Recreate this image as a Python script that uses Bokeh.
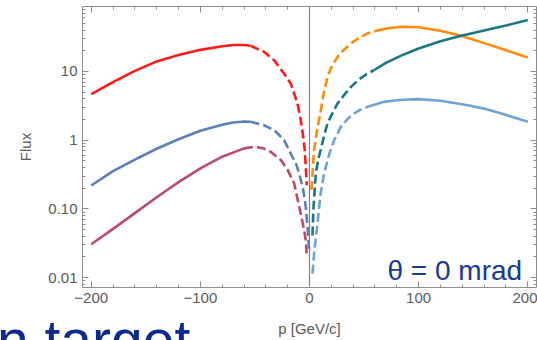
from bokeh.plotting import figure
from bokeh.models import Range1d, LinearAxis, LogAxis, FixedTicker, Span, Label, Div
from bokeh.layouts import column
from bokeh.embed import file_html
from bokeh.resources import INLINE

# ---------------- data ----------------
red_solid_p = [-200, -180, -160, -140, -120, -100, -80, -70, -60, -54]
red_solid_flux = [4.67, 7.0, 10.2, 14.0, 17.3, 20.6, 23.2, 24.2, 24.2, 23.6]
red_dash_p = [-54, -41.6, -32.5, -23.3, -17.2, -11, -8, -6, -4.3, -3.4, -2.5]
red_dash_flux = [23.6, 19.3, 14.6, 9.35, 6.69, 3.42, 1.95, 1.2, 0.715, 0.4, 0.221]

blue_solid_p = [-200, -180, -160, -140, -120, -100, -80, -70, -60, -54]
blue_solid_flux = [0.219, 0.355, 0.52, 0.75, 1.03, 1.37, 1.68, 1.81, 1.87, 1.85]
blue_dash_p = [-54, -41.6, -32.5, -28, -23.3, -20.2, -15.6, -12, -9.5, -6, -3.4, -2, -0.3]
blue_dash_flux = [1.85, 1.65, 1.4, 1.2, 1.0, 0.8, 0.57, 0.44, 0.327, 0.2, 0.107, 0.06, 0.025]

maroon_solid_p = [-200, -180, -160, -140, -120, -100, -80, -60]
maroon_solid_flux = [0.0306, 0.0513, 0.087, 0.148, 0.245, 0.389, 0.575, 0.76]
maroon_dash_p = [-60, -50.8, -42, -35.5, -26, -20, -14, -8, -5, -3.4, -2.5]
maroon_dash_flux = [0.76, 0.8, 0.76, 0.676, 0.51, 0.37, 0.234, 0.085, 0.05, 0.035, 0.021]

orange_dash_p = [1.8, 4.2, 7, 10.4, 13, 16.5, 20, 25.7, 30, 37.9, 45, 53.2, 61]
orange_dash_flux = [0.19, 0.73, 1.4, 2.73, 4.8, 8.3, 11.5, 16.3, 19.5, 25.5, 30.5, 35.7, 38.9]
orange_solid_p = [61, 72, 84, 100, 120, 139, 160, 180, 200]
orange_solid_flux = [38.9, 42.5, 44.6, 44.0, 39.0, 33.0, 25.8, 20.3, 16.0]

teal_dash_p = [2.7, 3.7, 5.8, 8, 10.4, 13, 16.5, 20, 25.7, 31, 38, 45, 53.2, 59]
teal_dash_flux = [0.041, 0.107, 0.33, 0.52, 0.74, 1.1, 1.75, 2.3, 3.42, 4.4, 5.97, 7.6, 9.35, 10.4]
teal_solid_p = [59, 70, 84, 100, 120, 139, 160, 180, 200]
teal_solid_flux = [10.4, 13.3, 17.0, 21.6, 27.5, 33.0, 39.5, 46.5, 55.8]

light_dash_p = [2.7, 4.5, 7.3, 10, 13.4, 18, 22.6, 28.7, 35, 41, 47, 53.2, 57]
light_dash_flux = [0.0115, 0.025, 0.061, 0.16, 0.33, 0.62, 1.0, 1.56, 2.05, 2.45, 2.8, 3.05, 3.2]
light_solid_p = [57, 68.5, 80, 90, 99.2, 120, 145, 160, 175.8, 200]
light_solid_flux = [3.2, 3.61, 3.8, 3.9, 3.95, 3.75, 3.23, 2.88, 2.45, 1.85]

x_ticks = [-200, -100, 0, 100, 200]
x_tick_labels = ["\u2212200", "\u2212100", "0", "100", "200"]
y_ticks = [0.01, 0.1, 1, 10]
y_tick_labels = ["0.01", "0.10", "1", "10"]

# ---------------- figure ----------------
FONT = "Liberation Sans"
AX = "#8c8c8c"
LBL = "#5a5a5a"

p = figure(width=537, height=340, x_range=Range1d(-208, 208),
           y_range=Range1d(0.0072, 88), y_axis_type="log",
           output_backend="svg", toolbar_location=None,
           min_border_left=82, min_border_right=1, min_border_top=6,
           min_border_bottom=53)
p.outline_line_color = None
p.xgrid.visible = False
p.ygrid.visible = False
p.background_fill_color = "white"
p.border_fill_color = "white"

x_minor = [v for v in range(-200, 201, 20) if v not in x_ticks]
y_minor = [k * 10.0 ** e for e in range(-3, 2) for k in range(2, 10)]
xt = FixedTicker(ticks=x_ticks, minor_ticks=x_minor)
yt = FixedTicker(ticks=y_ticks, minor_ticks=y_minor)

xax = p.xaxis[0]
yax = p.yaxis[0]
xax.ticker = xt
yax.ticker = yt
xax.major_label_overrides = dict(zip(x_ticks, x_tick_labels))
yax.major_label_overrides = dict(zip(y_ticks, y_tick_labels))
xax.axis_label = "p [GeV/c]"
yax.axis_label = "Flux"

# mirrored tick axes (no labels)
top = LinearAxis(ticker=xt, major_label_text_font_size="1px", major_label_standoff=0,
                 major_label_overrides={t: "" for t in x_ticks})
right = LogAxis(ticker=yt, major_label_text_font_size="1px", major_label_standoff=0,
                major_label_overrides={t: "" for t in y_ticks})
p.add_layout(top, "above")
p.add_layout(right, "right")

for ax in [xax, yax, top, right]:
    ax.axis_line_color = AX
    ax.major_tick_line_color = AX
    ax.minor_tick_line_color = AX
    ax.major_tick_in = 6
    ax.major_tick_out = 0
    ax.minor_tick_in = 3
    ax.minor_tick_out = 0

for ax in [xax, yax]:
    ax.major_label_text_font = FONT
    ax.major_label_text_font_size = "15px"
    ax.major_label_text_color = LBL
    ax.axis_label_text_font = FONT
    ax.axis_label_text_font_size = "15px"
    ax.axis_label_text_font_style = "normal"
    ax.axis_label_text_color = LBL
xax.major_label_standoff = 5
yax.major_label_standoff = 5
xax.axis_label_standoff = 14
yax.axis_label_standoff = 11

p.add_layout(Span(location=0, dimension="height", line_color="#808080",
                  line_width=1.2, level="underlay"))

curves = [
    (red_solid_p, red_solid_flux, red_dash_p, red_dash_flux, "#ff1a1a"),
    (blue_solid_p, blue_solid_flux, blue_dash_p, blue_dash_flux, "#5b80b8"),
    (maroon_solid_p, maroon_solid_flux, maroon_dash_p, maroon_dash_flux, "#bb4b6c"),
    (orange_solid_p, orange_solid_flux, orange_dash_p, orange_dash_flux, "#ff8a0a"),
    (teal_solid_p, teal_solid_flux, teal_dash_p, teal_dash_flux, "#1a7686"),
    (light_solid_p, light_solid_flux, light_dash_p, light_dash_flux, "#6fa3d3"),
]
for sp, sf, dp, df, col in curves:
    p.line(sp, sf, line_color=col, line_width=2.6, line_join="round")
    p.line(dp, df, line_color=col, line_width=2.6, line_dash="9 4")

p.add_layout(Label(x=305, y=17, x_units="screen", y_units="screen",
                   text="\u03b8 = 0 mrad", text_font=FONT, text_font_size="28px",
                   text_color="#173a94", text_baseline="alphabetic", text_align="left"))

# slide-title fragment that overlaps the bottom edge of the chart
title_div = Div(
    text='<div style="position:relative;left:-3px;top:6px;white-space:nowrap;'
         'font-family:\'Liberation Sans\';font-size:57px;line-height:57px;'
         'color:#0d2a8c;">n target</div>',
    width=300, height=34, margin=(-34, 0, 0, 0),
    styles={"overflow": "hidden"},
)

layout = column(p, title_div, spacing=0)
open("out.html", "w").write(file_html(layout, INLINE))
